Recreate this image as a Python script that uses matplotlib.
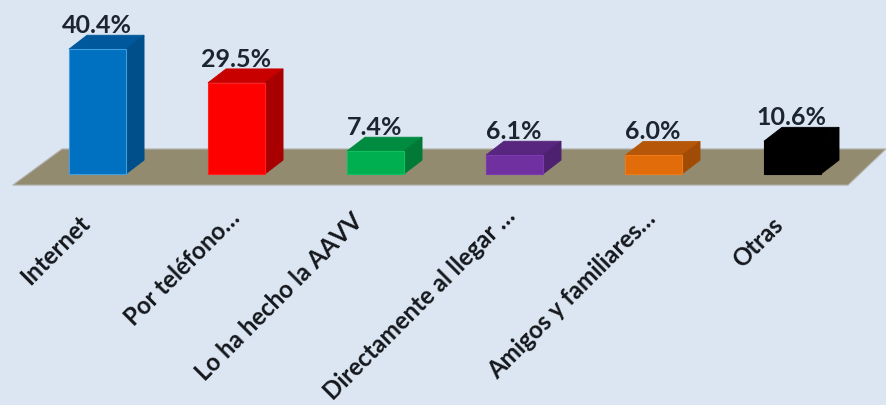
import matplotlib
matplotlib.use("Agg")
import matplotlib.pyplot as plt
from matplotlib.patches import Polygon

plt.rcParams['font.family'] = ['Lato', 'DejaVu Sans']

categories = ["Internet", "Por teléfono…", "Lo ha hecho la AAVV",
              "Directamente al llegar …", "Amigos y familiares…", "Otras"]
values = [40.4, 29.5, 7.4, 6.1, 6.0, 10.6]
value_labels = ["40.4%", "29.5%", "7.4%", "6.1%", "6.0%", "10.6%"]
front_colors = ["#0070c0", "#ff0000", "#00b050", "#7030a0", "#e36c0a", "#000000"]
top_colors = ["#00589c", "#c80000", "#008c40", "#58267e", "#b55608", "#000000"]
side_colors = ["#004f8a", "#a80000", "#007a36", "#4e2170", "#a04c06", "#000000"]
edge_colors = ["#3f9fe0", "#ff2020", "#10c060", "#7a3ab0", "#ee7a18", "#000000"]

# hand nudges for the rotated labels, in pixels
nudge_x = [-15, -4, -20, -7, -5, -17]
nudge_y = [5, 0, 3, -2, 0, 7]

bar_w = 0.41
dx = 0.13
dy = 4.5

fig = plt.figure(figsize=(8.86, 4.05), dpi=100, facecolor="#dce6f2")
ax = fig.add_axes([0, 0, 1, 1])
ax.set_xlim(-0.7014, 5.673)
ax.set_ylim(-74.76, 56.3)
ax.axis("off")

# floor of the 3D chart
floor = [(-0.61, -3.6), (5.40, -3.6), (5.673, 8.1), (-0.255, 8.1)]
ax.add_patch(Polygon(floor, closed=True, fc="#938b70", ec="#b5b5b0", lw=0.8, zorder=1))

for i, v in enumerate(values):
    l = i - bar_w / 2
    r = i + bar_w / 2
    ax.add_patch(Polygon([(l, v), (r, v), (r + dx, v + dy), (l + dx, v + dy)],
                         fc=top_colors[i], ec=top_colors[i], lw=0.6, zorder=2))
    ax.add_patch(Polygon([(r, 0), (r + dx, dy), (r + dx, v + dy), (r, v)],
                         fc=side_colors[i], ec=side_colors[i], lw=0.6, zorder=2))
    ax.bar(i, v, width=bar_w, color=front_colors[i], edgecolor=edge_colors[i], lw=0.8, zorder=3)
    ax.text(i - 0.005, v + dy + 0.7, value_labels[i], ha="center", va="baseline",
            fontsize=18, fontweight="bold", color="#1c2430", zorder=4)

for i, c in enumerate(categories):
    ax.annotate(c, xy=(i - 0.03, -10.5), xytext=(nudge_x[i] * 0.72, -nudge_y[i] * 0.72),
                textcoords="offset points", rotation=45, rotation_mode="anchor",
                ha="right", va="top", fontsize=17.3, fontweight="bold", color="#14171c")

fig.savefig("out.png", dpi=100, facecolor=fig.get_facecolor())
